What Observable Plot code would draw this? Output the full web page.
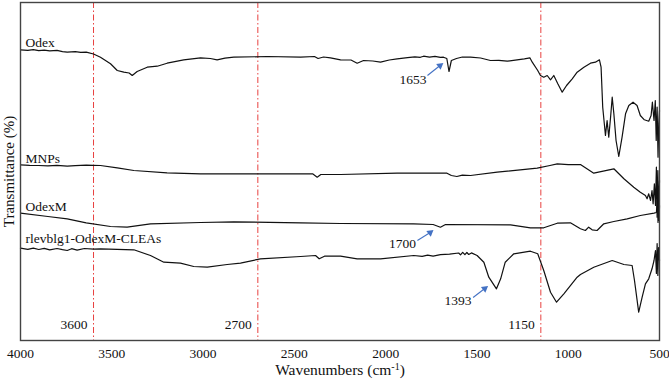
<!DOCTYPE html>
<html>
<head>
<meta charset="utf-8">
<script src="https://cdn.jsdelivr.net/npm/d3@7"></script>
<script src="https://cdn.jsdelivr.net/npm/@observablehq/plot@0.6"></script>
<style>
  body { margin: 0; background: #fff; }
  #chart svg { display: block; }
</style>
</head>
<body>
<div id="chart"></div>
<script>
// FTIR spectra: [wavenumber (cm-1), transmittance (offset, arbitrary units)]
const odex = [
  [4000,290.7],[3960,290.2],[3930,290.9],[3900,289.8],[3870,290.4],[3840,289.6],[3800,290.1],
  [3770,288.8],[3744,288.3],[3700,288.9],[3670,288.1],[3640,288.3],[3600,286.5],[3562,283.3],
  [3507,276.7],[3470,270],[3434,268.3],[3405,267.5],[3388,265],[3361,269],[3306,273.3],
  [3251,274.3],[3197,277.3],[3106,280.7],[3014,282.7],[2960,282],[2923,280.7],[2880,282.3],
  [2832,283.3],[2649,284],[2466,283.3],[2390,284],[2370,282],[2340,283.5],[2302,282.7],
  [2247,280.7],[2190,280.5],[2156,277.3],[2121,280],[2070,279.5],[2028,278.3],[1980,280.5],
  [1937,281.7],[1880,282.8],[1840,283.6],[1810,283.2],[1792,284.3],[1760,283.4],[1730,284.2],
  [1700,283.1],[1683,283.3],[1665,282],[1653,269],[1640,280],[1612,282],[1580,283.5],
  [1535,283.3],[1480,282.5],[1426,280],[1380,280.2],[1334,279.3],[1280,280.7],[1240,281.7],
  [1210,282.7],[1197,278.3],[1167,270],[1152,265],[1134,263.3],[1115,265],[1097,260.7],
  [1079,265],[1057,256.7],[1033,248.3],[1009,255],[978,261.7],[951,268.3],[914,273.3],
  [878,277.3],[851,278.3],[829,280.7],[820,273.3],[811,233.3],[796,205],[787,220],[778,203.3],
  [768,223.3],[759,243.3],[750,226.7],[738,200],[723,184],[705,203.3],[686,226.7],[668,235],
  [645,238.3],[623,235],[605,225],[583,220.7],[559,219.3],[546,225],[539,238.3],[530,220],
  [523,240],[518,200],[513,233.3],[508,183.3],[504,217],[500,230]
];
const mnps = [
  [4000,175.7],[3950,175.2],[3900,175],[3850,174.6],[3800,175.2],[3744,174.3],[3700,174.9],
  [3640,175.3],[3562,175],[3470,172.7],[3379,170],[3197,167.7],[3014,166.7],[2649,166.7],
  [2400,166.7],[2375,163.3],[2355,166],[2247,166],[1937,167.3],[1664,167.3],[1640,165],
  [1610,164],[1580,165.4],[1535,165],[1389,168.3],[1170,172.3],[1100,175],[1060,176.7],
  [1000,175.8],[933,176],[860,167.3],[750,171.7],[695,161.7],[641,153.3],[605,148.3],
  [577,145],[568,141.7],[559,146.7],[549,140],[541,150],[535,136.7],[528,156.7],[522,135],
  [517,173.3],[513,123.3],[509,170],[505,126.7],[500,160]
];
const odexM = [
  [4000,127.3],[3850,124],[3744,121.7],[3640,117.7],[3507,114],[3416,113.3],[3288,116.7],
  [3014,118],[2832,118.7],[2466,117.7],[2247,117],[1847,116.7],[1740,116],[1700,113.3],
  [1672,116],[1316,115.7],[1207,112.7],[1134,112.7],[1060,117.3],[988,117.7],[933,111.7],
  [906,110],[888,113.3],[869,110.7],[842,110],[805,116.7],[750,119],[677,121.7],[605,125],
  [530,127.3],[517,128],[512,140],[508,118],[505,150],[502,120],[500,135]
];
const cleas = [
  [4000,92.3],[3960,91.2],[3930,92.4],[3900,91],[3870,92.2],[3840,90.6],[3800,92],[3770,90.8],
  [3744,90],[3720,91.8],[3690,90.4],[3650,92],[3600,91.4],[3562,91.7],[3379,90.7],[3288,85],
  [3215,78.3],[3124,77.3],[3051,74],[2977,73.3],[2868,76],[2795,77.3],[2686,81.7],[2466,84],
  [2384,85],[2364,81.7],[2335,84.3],[2247,84.3],[2156,81.7],[2028,81.7],[1846,85],[1800,84.2],
  [1770,85.4],[1740,84.3],[1700,85.8],[1650,86.4],[1600,87.5],[1590,85.6],[1578,88.2],
  [1566,85.8],[1555,88],[1545,86],[1530,87.6],[1499,85],[1462,78.3],[1435,63.3],[1393,51.7],
  [1370,61.7],[1345,78.3],[1298,86.7],[1207,89.3],[1167,86.7],[1134,70],[1097,48.3],
  [1064,38.3],[1024,46.7],[951,63.3],[933,66],[860,73.3],[759,80],[695,76],[650,75],[637,60],
  [614,28.3],[595,43.3],[577,56.7],[559,61.7],[541,71.7],[530,80],[522,90],[517,67],[513,97],
  [509,65],[505,93],[500,80]
];

const seriesNames = ["Odex", "MNPs", "OdexM", "rlevblg1-OdexM-CLEAs"];
const spectra = [odex, mnps, odexM, cleas];

// Reference wavenumbers marked by dash-dot guides
const guides = [3600, 2700, 1150];
// Labelled band positions
const peaks = [1653, 1700, 1393];
const xTicks = [4000, 3500, 3000, 2500, 2000, 1500, 1000, 500];

const rows = spectra.flatMap((pts, i) =>
  pts.map(([w, t]) => ({series: seriesNames[i], w, t}))
);

// Placement of the series names and the peak call-outs
const nameY = [298.3, 182.3, 134.3, 101.6];
const names = seriesNames.map((name, i) => ({name, x: 3973, y: nameY[i]}));
const callouts = [
  {peak: peaks[0], lx: 1850, ly: 261.3, x1: 1771, y1: 265, x2: 1702, y2: 275},
  {peak: peaks[1], lx: 1908, ly: 97.3, x1: 1826, y1: 100, x2: 1756, y2: 108},
  {peak: peaks[2], lx: 1604, ly: 40.3, x1: 1521, y1: 43, x2: 1457, y2: 52}
];

const blue = "#4472c4";

const chart = Plot.plot({
  width: 669,
  height: 381,
  marginLeft: 20,
  marginRight: 10,
  marginTop: 2,
  marginBottom: 41,
  style: {fontFamily: "'Liberation Serif', 'Times New Roman', serif", fontSize: "13.5px", color: "#111", background: "#fff"},
  x: {domain: [4000, 500], ticks: xTicks, tickSize: 0, tickPadding: 8, tickFormat: d => String(d), label: null},
  y: {domain: [0, 338], axis: null},
  marks: [
    Plot.ruleX(guides, {x: d => d, stroke: "#e8403f", strokeWidth: 1, strokeDasharray: "6,2.5,1.5,2.5"}),
    Plot.text(guides, {x: d => d, y: 16.3, text: d => String(d), textAnchor: "end", dx: -6, fill: "#111"}),
    Plot.line(rows, {x: "w", y: "t", z: "series", stroke: "#111", strokeWidth: 1.2, curve: "linear"}),
    Plot.text(names, {x: "x", y: "y", text: "name", textAnchor: "start", fill: "#111"}),
    Plot.link(callouts, {x1: "x1", y1: "y1", x2: "x2", y2: "y2", stroke: blue, strokeWidth: 1.1}),
    Plot.dot(callouts, {x: "x2", y: "y2", symbol: "triangle", r: 2.7, fill: blue, stroke: null, rotate: 52}),
    Plot.text(callouts, {x: "lx", y: "ly", text: d => String(d.peak), fill: "#111"}),
    Plot.text(["Transmittance (%)"], {frameAnchor: "left", dx: -11, rotate: -90, textAnchor: "middle", lineAnchor: "middle", fontSize: 15, fill: "#111"}),
    Plot.text(["Wavenumbers (cm-1)"], {frameAnchor: "bottom", dy: 30, textAnchor: "middle", lineAnchor: "middle", fontSize: 15.5, fill: "#111"}),
    Plot.frame({stroke: "#444", strokeWidth: 1.4})
  ]
});

// Typeset the unit exponent of the x-axis title as a superscript
for (const t of chart.querySelectorAll("text")) {
  if (t.textContent === "Wavenumbers (cm-1)") {
    t.textContent = "";
    const ns = "http://www.w3.org/2000/svg";
    const base = document.createElementNS(ns, "tspan");
    base.textContent = "Wavenumbers (cm";
    const sup = document.createElementNS(ns, "tspan");
    sup.textContent = "-1";
    sup.setAttribute("dy", "-5");
    sup.setAttribute("font-size", "10px");
    const close = document.createElementNS(ns, "tspan");
    close.textContent = ")";
    close.setAttribute("dy", "5");
    t.append(base, sup, close);
  }
}

document.getElementById("chart").appendChild(chart);
</script>
</body>
</html>
